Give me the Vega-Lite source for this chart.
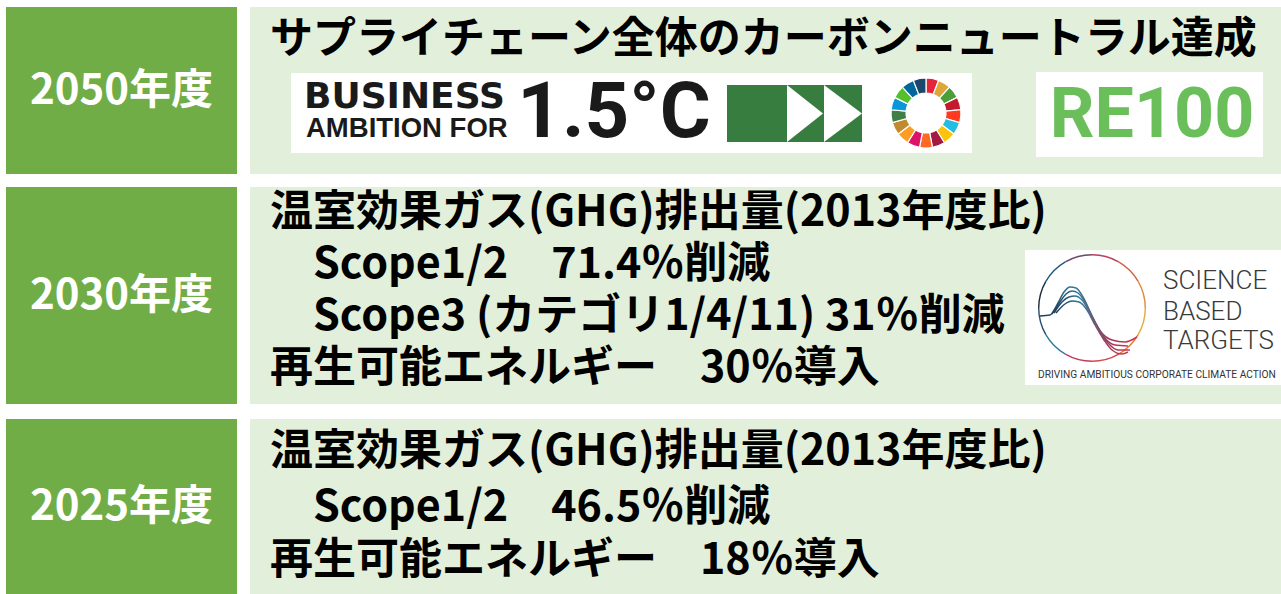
{
  "$schema": "https://vega.github.io/schema/vega-lite/v6.json",
  "width": 1281,
  "height": 594,
  "padding": 0,
  "autosize": {"type": "none"},
  "background": "white",
  "config": {"view": {"stroke": null}},
  "resolve": {"scale": {"theta": "independent", "color": "independent"}},
  "layer": [
    {
      "data": {"values": [
        {"label": "2050年度", "top": 7, "bottom": 174, "mid": 90.5},
        {"label": "2030年度", "top": 187, "bottom": 404, "mid": 295.5},
        {"label": "2025年度", "top": 419, "bottom": 594, "mid": 506.5}
      ]},
      "layer": [
        {
          "mark": {"type": "rect", "color": "#70AD47"},
          "encoding": {
            "x": {"datum": 6, "type": "quantitative", "scale": {"domain": [0, 1281], "nice": false, "zero": false}, "axis": null},
            "x2": {"datum": 237},
            "y": {"field": "top", "type": "quantitative", "scale": {"domain": [0, 594], "nice": false, "zero": false, "reverse": true}, "axis": null},
            "y2": {"field": "bottom"}
          }
        },
        {
          "mark": {"type": "rect", "color": "#E2EFDA"},
          "encoding": {
            "x": {"datum": 250, "type": "quantitative", "scale": {"domain": [0, 1281], "nice": false, "zero": false}, "axis": null},
            "x2": {"datum": 1281},
            "y": {"field": "top", "type": "quantitative", "scale": {"domain": [0, 594], "nice": false, "zero": false, "reverse": true}, "axis": null},
            "y2": {"field": "bottom"}
          }
        },
        {
          "mark": {"type": "text", "color": "white", "font": "Noto Sans CJK JP", "fontWeight": "bold", "fontSize": 42, "align": "center", "baseline": "middle"},
          "encoding": {
            "x": {"datum": 121.5, "type": "quantitative", "scale": {"domain": [0, 1281], "nice": false, "zero": false}, "axis": null},
            "y": {"field": "mid", "type": "quantitative", "scale": {"domain": [0, 594], "nice": false, "zero": false, "reverse": true}, "axis": null},
            "text": {"field": "label"}
          }
        }
      ]
    },
    {
      "data": {"values": [
        {"logo": "BA1.5", "left": 291, "right": 972, "top": 73, "bottom": 153},
        {"logo": "RE100", "left": 1036, "right": 1263, "top": 72, "bottom": 157},
        {"logo": "SBTi", "left": 1025, "right": 1281, "top": 250, "bottom": 385}
      ]},
      "mark": {"type": "rect", "color": "white"},
      "encoding": {
        "x": {"field": "left", "type": "quantitative", "scale": {"domain": [0, 1281], "nice": false, "zero": false}, "axis": null},
        "x2": {"field": "right"},
        "y": {"field": "top", "type": "quantitative", "scale": {"domain": [0, 594], "nice": false, "zero": false, "reverse": true}, "axis": null},
        "y2": {"field": "bottom"}
      }
    },
    {
      "data": {"values": [
        {"text": "サプライチェーン全体のカーボンニュートラル達成", "x": 270, "y": 40},
        {"text": "温室効果ガス(GHG)排出量(2013年度比)", "x": 270, "y": 213},
        {"text": "Scope1/2　71.4％削減", "x": 313, "y": 265},
        {"text": "Scope3 (カテゴリ1/4/11) 31％削減", "x": 313, "y": 317},
        {"text": "再生可能エネルギー　30％導入", "x": 270, "y": 369},
        {"text": "温室効果ガス(GHG)排出量(2013年度比)", "x": 270, "y": 452},
        {"text": "Scope1/2　46.5％削減", "x": 313, "y": 508},
        {"text": "再生可能エネルギー　18％導入", "x": 270, "y": 561}
      ]},
      "mark": {"type": "text", "color": "black", "font": "Noto Sans CJK JP", "fontWeight": "bold", "fontSize": 43, "align": "left", "baseline": "middle"},
      "encoding": {
        "x": {"field": "x", "type": "quantitative", "scale": {"domain": [0, 1281], "nice": false, "zero": false}, "axis": null},
        "y": {"field": "y", "type": "quantitative", "scale": {"domain": [0, 594], "nice": false, "zero": false, "reverse": true}, "axis": null},
        "text": {"field": "text"}
      }
    },
    {
      "data": {"values": [{"text": "BUSINESS", "x": 304, "y": 97}]},
      "mark": {"type": "text", "color": "#1a1a1a", "font": "DejaVu Sans", "fontWeight": "bold", "fontSize": 36, "align": "left", "baseline": "middle"},
      "encoding": {
        "x": {"field": "x", "type": "quantitative", "scale": {"domain": [0, 1281], "nice": false, "zero": false}, "axis": null},
        "y": {"field": "y", "type": "quantitative", "scale": {"domain": [0, 594], "nice": false, "zero": false, "reverse": true}, "axis": null},
        "text": {"field": "text"}
      }
    },
    {
      "data": {"values": [{"text": "AMBITION FOR", "x": 306, "y": 129}]},
      "mark": {"type": "text", "color": "#1a1a1a", "font": "Liberation Sans", "fontWeight": "bold", "fontSize": 27.5, "align": "left", "baseline": "middle"},
      "encoding": {
        "x": {"field": "x", "type": "quantitative", "scale": {"domain": [0, 1281], "nice": false, "zero": false}, "axis": null},
        "y": {"field": "y", "type": "quantitative", "scale": {"domain": [0, 594], "nice": false, "zero": false, "reverse": true}, "axis": null},
        "text": {"field": "text"}
      }
    },
    {
      "data": {"values": [{"text": "1.5°C", "x": 614, "y": 114}]},
      "mark": {"type": "text", "color": "#1a1a1a", "font": "Roboto", "fontWeight": "bold", "fontSize": 78, "align": "center", "baseline": "middle"},
      "encoding": {
        "x": {"field": "x", "type": "quantitative", "scale": {"domain": [0, 1281], "nice": false, "zero": false}, "axis": null},
        "y": {"field": "y", "type": "quantitative", "scale": {"domain": [0, 594], "nice": false, "zero": false, "reverse": true}, "axis": null},
        "text": {"field": "text"}
      }
    },
    {
      "data": {"values": [{"left": 727, "right": 862, "top": 85, "bottom": 142}]},
      "mark": {"type": "rect", "color": "#377d3f"},
      "encoding": {
        "x": {"field": "left", "type": "quantitative", "scale": {"domain": [0, 1281], "nice": false, "zero": false}, "axis": null},
        "x2": {"field": "right"},
        "y": {"field": "top", "type": "quantitative", "scale": {"domain": [0, 594], "nice": false, "zero": false, "reverse": true}, "axis": null},
        "y2": {"field": "bottom"}
      }
    },
    {
      "data": {"values": [
        {"tri": 1, "x": 787, "top": 85, "bottom": 142},
        {"tri": 1, "x": 823, "top": 113.5, "bottom": 113.5},
        {"tri": 2, "x": 824, "top": 85, "bottom": 142},
        {"tri": 2, "x": 862, "top": 113.5, "bottom": 113.5}
      ]},
      "mark": {"type": "area", "color": "white", "orient": "vertical", "opacity": 1},
      "encoding": {
        "x": {"field": "x", "type": "quantitative", "scale": {"domain": [0, 1281], "nice": false, "zero": false}, "axis": null},
        "y": {"field": "top", "type": "quantitative", "scale": {"domain": [0, 594], "nice": false, "zero": false, "reverse": true}, "axis": null},
        "y2": {"field": "bottom"},
        "detail": {"field": "tri"}
      }
    },
    {
      "data": {"values": [
        {"goal": 1, "v": 1}, {"goal": 2, "v": 1}, {"goal": 3, "v": 1}, {"goal": 4, "v": 1},
        {"goal": 5, "v": 1}, {"goal": 6, "v": 1}, {"goal": 7, "v": 1}, {"goal": 8, "v": 1},
        {"goal": 9, "v": 1}, {"goal": 10, "v": 1}, {"goal": 11, "v": 1}, {"goal": 12, "v": 1},
        {"goal": 13, "v": 1}, {"goal": 14, "v": 1}, {"goal": 15, "v": 1}, {"goal": 16, "v": 1},
        {"goal": 17, "v": 1}
      ]},
      "mark": {"type": "arc", "radius": 35, "innerRadius": 20, "stroke": "white", "strokeWidth": 1.2},
      "encoding": {
        "x": {"datum": 926, "type": "quantitative", "scale": {"domain": [0, 1281], "nice": false, "zero": false}, "axis": null},
        "y": {"datum": 113, "type": "quantitative", "scale": {"domain": [0, 594], "nice": false, "zero": false, "reverse": true}, "axis": null},
        "theta": {"field": "v", "type": "quantitative", "stack": true},
        "order": {"field": "goal", "type": "quantitative"},
        "color": {"field": "goal", "type": "ordinal", "legend": null, "scale": {
          "domain": [1, 2, 3, 4, 5, 6, 7, 8, 9, 10, 11, 12, 13, 14, 15, 16, 17],
          "range": ["#E5243B", "#DDA63A", "#4C9F38", "#C5192D", "#FF3A21", "#26BDE2", "#FCC30B", "#A21942", "#FD6925", "#DD1367", "#FD9D24", "#BF8B2E", "#3F7E44", "#0A97D9", "#56C02B", "#00689D", "#19486A"]
        }}
      }
    },
    {
      "data": {"values": [{"text": "RE100", "x": 1152, "y": 116}]},
      "mark": {"type": "text", "color": "#6abf5b", "font": "Roboto", "fontWeight": "bold", "fontSize": 70, "align": "center", "baseline": "middle"},
      "encoding": {
        "x": {"field": "x", "type": "quantitative", "scale": {"domain": [0, 1281], "nice": false, "zero": false}, "axis": null},
        "y": {"field": "y", "type": "quantitative", "scale": {"domain": [0, 594], "nice": false, "zero": false, "reverse": true}, "axis": null},
        "text": {"field": "text"}
      }
    },
    {
      "data": {"values": [
        {"seg": 1, "v": 1}, {"seg": 2, "v": 1}, {"seg": 3, "v": 1}, {"seg": 4, "v": 1},
        {"seg": 5, "v": 1}, {"seg": 6, "v": 1}, {"seg": 7, "v": 1}, {"seg": 8, "v": 1},
        {"seg": 9, "v": 1}, {"seg": 10, "v": 1}, {"seg": 11, "v": 1}, {"seg": 12, "v": 1}
      ]},
      "mark": {"type": "arc", "radius": 54, "innerRadius": 52.6},
      "encoding": {
        "x": {"datum": 1092, "type": "quantitative", "scale": {"domain": [0, 1281], "nice": false, "zero": false}, "axis": null},
        "y": {"datum": 308, "type": "quantitative", "scale": {"domain": [0, 594], "nice": false, "zero": false, "reverse": true}, "axis": null},
        "theta": {"field": "v", "type": "quantitative", "stack": true},
        "order": {"field": "seg", "type": "quantitative"},
        "color": {"field": "seg", "type": "ordinal", "legend": null, "scale": {
          "domain": [1, 2, 3, 4, 5, 6, 7, 8, 9, 10, 11, 12],
          "range": ["#b8405e", "#d0604a", "#e08a3a", "#e8a83a", "#e07a3a", "#d44a50", "#c23a5a", "#2e7a9a", "#2a4a6a", "#1e2a3a", "#1f5a7a", "#6a4a6a"]
        }}
      }
    },
    {
      "data": {"values": [
        {"curve": 1, "x": 1040, "y": 316}, {"curve": 1, "x": 1050, "y": 315}, {"curve": 1, "x": 1058, "y": 303}, {"curve": 1, "x": 1064, "y": 292}, {"curve": 1, "x": 1070, "y": 287}, {"curve": 1, "x": 1076, "y": 288}, {"curve": 1, "x": 1083, "y": 297}, {"curve": 1, "x": 1092, "y": 316}, {"curve": 1, "x": 1101, "y": 332}, {"curve": 1, "x": 1112, "y": 340}, {"curve": 1, "x": 1125, "y": 342}, {"curve": 1, "x": 1137, "y": 337},
        {"curve": 2, "x": 1052, "y": 314}, {"curve": 2, "x": 1060, "y": 302}, {"curve": 2, "x": 1066, "y": 294}, {"curve": 2, "x": 1072, "y": 291}, {"curve": 2, "x": 1078, "y": 293}, {"curve": 2, "x": 1086, "y": 304}, {"curve": 2, "x": 1095, "y": 322}, {"curve": 2, "x": 1104, "y": 337}, {"curve": 2, "x": 1115, "y": 345}, {"curve": 2, "x": 1128, "y": 346},
        {"curve": 3, "x": 1054, "y": 313}, {"curve": 3, "x": 1062, "y": 302}, {"curve": 3, "x": 1069, "y": 297}, {"curve": 3, "x": 1075, "y": 296}, {"curve": 3, "x": 1082, "y": 300}, {"curve": 3, "x": 1090, "y": 313}, {"curve": 3, "x": 1099, "y": 330}, {"curve": 3, "x": 1108, "y": 343}, {"curve": 3, "x": 1118, "y": 350}, {"curve": 3, "x": 1130, "y": 350},
        {"curve": 4, "x": 1056, "y": 313}, {"curve": 4, "x": 1065, "y": 304}, {"curve": 4, "x": 1072, "y": 301}, {"curve": 4, "x": 1079, "y": 302}, {"curve": 4, "x": 1087, "y": 310}, {"curve": 4, "x": 1095, "y": 325}, {"curve": 4, "x": 1104, "y": 340}, {"curve": 4, "x": 1112, "y": 350}, {"curve": 4, "x": 1122, "y": 354}, {"curve": 4, "x": 1128, "y": 352}
      ]},
      "mark": {"type": "line", "interpolate": "monotone", "strokeWidth": 1.5,
        "stroke": {"gradient": "linear", "x1": 0, "y1": 0, "x2": 1, "y2": 0, "stops": [
          {"offset": 0, "color": "#1d3b57"}, {"offset": 0.35, "color": "#2d7d9a"}, {"offset": 0.7, "color": "#9a3a5a"}, {"offset": 1, "color": "#d2364a"}
        ]}},
      "encoding": {
        "x": {"field": "x", "type": "quantitative", "scale": {"domain": [0, 1281], "nice": false, "zero": false}, "axis": null},
        "y": {"field": "y", "type": "quantitative", "scale": {"domain": [0, 594], "nice": false, "zero": false, "reverse": true}, "axis": null},
        "detail": {"field": "curve"}
      }
    },
    {
      "data": {"values": [
        {"text": "SCIENCE", "x": 1163, "y": 281},
        {"text": "BASED", "x": 1163, "y": 312},
        {"text": "TARGETS", "x": 1163, "y": 341}
      ]},
      "mark": {"type": "text", "color": "#3a3a3a", "font": "Roboto", "fontWeight": 300, "fontSize": 26, "align": "left", "baseline": "middle"},
      "encoding": {
        "x": {"field": "x", "type": "quantitative", "scale": {"domain": [0, 1281], "nice": false, "zero": false}, "axis": null},
        "y": {"field": "y", "type": "quantitative", "scale": {"domain": [0, 594], "nice": false, "zero": false, "reverse": true}, "axis": null},
        "text": {"field": "text"}
      }
    },
    {
      "data": {"values": [{"text": "DRIVING AMBITIOUS CORPORATE CLIMATE ACTION", "x": 1157, "y": 375}]},
      "mark": {"type": "text", "color": "#333333", "font": "Roboto", "fontSize": 10.2, "align": "center", "baseline": "middle"},
      "encoding": {
        "x": {"field": "x", "type": "quantitative", "scale": {"domain": [0, 1281], "nice": false, "zero": false}, "axis": null},
        "y": {"field": "y", "type": "quantitative", "scale": {"domain": [0, 594], "nice": false, "zero": false, "reverse": true}, "axis": null},
        "text": {"field": "text"}
      }
    }
  ]
}
